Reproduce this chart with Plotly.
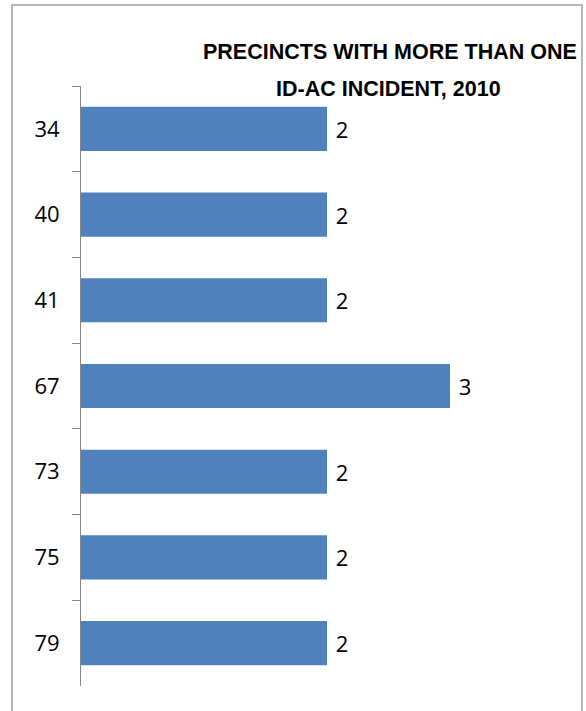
import plotly.graph_objects as go

precincts = ["34", "40", "41", "67", "73", "75", "79"]
incidents = [2, 2, 2, 3, 2, 2, 2]
title_line1 = "PRECINCTS WITH MORE THAN ONE"
title_line2 = "ID-AC INCIDENT, 2010"

W, H = 586, 711
L, R, T, B = 81, 13, 86, 25
plot_w = W - L - R
plot_h = H - T - B

def px_x(px):
    return (px - L) / plot_w

def px_y(py):
    return (H - B - py) / plot_h

label_font = "Open Sans, Liberation Sans, sans-serif"
title_font = "Liberation Sans Narrow, Arial Narrow, Liberation Sans, Arial, sans-serif"

fig = go.Figure(
    go.Bar(
        y=precincts,
        x=incidents,
        orientation="h",
        marker=dict(color="#4F81BD", line=dict(width=0)),
        width=0.515,
        text=incidents,
        texttemplate=" %{x}",
        textposition="outside",
        cliponaxis=False,
        textfont=dict(family=label_font, size=22, color="#000000"),
        hoverinfo="skip",
    )
)

fig.update_layout(
    width=W,
    height=H,
    margin=dict(l=L, r=R, t=T, b=B, autoexpand=False),
    paper_bgcolor="white",
    plot_bgcolor="white",
    showlegend=False,
    xaxis=dict(range=[0, plot_w / 123.0], visible=False, fixedrange=True),
    yaxis=dict(
        type="category",
        autorange="reversed",
        showline=True,
        linecolor="#868686",
        linewidth=1,
        ticks="outside",
        tickson="boundaries",
        ticklen=8,
        tickcolor="#868686",
        tickwidth=1,
        showgrid=False,
        zeroline=False,
        fixedrange=True,
        ticklabelstandoff=16,
        tickfont=dict(family=label_font, size=22, color="#000000"),
    ),
    shapes=[
        dict(
            type="rect",
            xref="paper",
            yref="paper",
            x0=px_x(12),
            x1=px_x(582),
            y0=px_y(730),
            y1=px_y(5),
            line=dict(color="#A0A0A0", width=1.5),
            fillcolor="rgba(0,0,0,0)",
            layer="below",
        )
    ],
    annotations=[
        dict(
            text="<b>" + title_line1 + "</b>",
            xref="paper",
            yref="paper",
            x=px_x(390),
            y=px_y(52),
            xanchor="center",
            yanchor="middle",
            showarrow=False,
            font=dict(family=title_font, size=21.5, color="#000000"),
        ),
        dict(
            text="<b>" + title_line2 + "</b>",
            xref="paper",
            yref="paper",
            x=px_x(388),
            y=px_y(89),
            xanchor="center",
            yanchor="middle",
            showarrow=False,
            font=dict(family=title_font, size=21.5, color="#000000"),
        ),
    ],
)

fig.write_html(
    "out.html",
    config={"displayModeBar": False},
    post_script="document.body.style.margin='0';document.body.style.padding='0';document.body.style.overflow='hidden';",
)
